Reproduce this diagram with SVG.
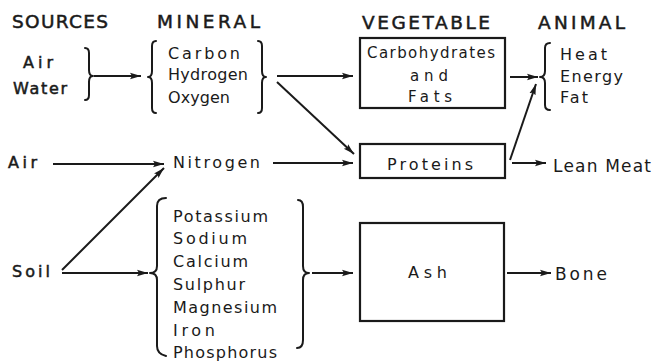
<svg xmlns="http://www.w3.org/2000/svg" width="653" height="362" viewBox="0 0 653 362">
<style>
text{font-family:"DejaVu Sans","Liberation Sans",sans-serif;fill:#1a1a1a;font-size:16px}
.h{font-size:18.5px;stroke:#1a1a1a;stroke-width:0.5}
.s{font-size:15px}
.b{font-size:17px}
.k{stroke:#1a1a1a;stroke-width:0.5}
.br{fill:none;stroke:#1a1a1a;stroke-width:2;stroke-linecap:round;stroke-linejoin:round}
.ln{fill:none;stroke:#1a1a1a;stroke-width:2}
.arr{marker-end:url(#ah)}
.box{fill:none;stroke:#1a1a1a;stroke-width:2.2}
</style>
<defs>
<marker id="ah" markerUnits="userSpaceOnUse" markerWidth="12" markerHeight="8" refX="11" refY="4" orient="auto">
<path d="M0,0.8 L11,4 L0,7.2 L2,4 Z" fill="#1a1a1a"/>
</marker>
</defs>
<rect width="653" height="362" fill="#ffffff"/>
<g id="headers">
<text class="h" x="12" y="28" textLength="96" lengthAdjust="spacing">SOURCES</text>
<text class="h" x="157" y="28" textLength="103" lengthAdjust="spacing">MINERAL</text>
<text class="h" x="362" y="29" textLength="128" lengthAdjust="spacing">VEGETABLE</text>
<text class="h" x="538" y="29" textLength="87" lengthAdjust="spacing">ANIMAL</text>
</g>
<g id="sources-top">
<text class="k" x="23" y="68" textLength="30" lengthAdjust="spacing">Air</text>
<text class="k" x="13" y="94" textLength="54" lengthAdjust="spacing">Water</text>
<path class="br" d="M85,48 Q89,48 89,53 L89,70 Q89,76 93,76 Q89,76 89,82 L89,95 Q89,100 85,100"/>
</g>
<g id="mineral-chon">
<path class="br" d="M156,41 Q152,41 152,46 L152,71 Q152,77 148,77 Q152,77 152,83 L152,108 Q152,113 156,113"/>
<text x="168" y="59" textLength="72" lengthAdjust="spacing">Carbon</text>
<text x="168" y="80" textLength="80" lengthAdjust="spacing">Hydrogen</text>
<text x="168" y="103" textLength="62" lengthAdjust="spacing">Oxygen</text>
<path class="br" d="M258,41 Q262,41 262,46 L262,71 Q262,77 266,77 Q262,77 262,83 L262,108 Q262,113 258,113"/>
</g>
<g id="vegetable-carbs">
<rect class="box" x="360" y="38" width="145" height="70"/>
<text class="s" x="367" y="58" textLength="128" lengthAdjust="spacing">Carbohydrates</text>
<text class="s" x="410" y="81" textLength="38" lengthAdjust="spacing">and</text>
<text class="s" x="408" y="102" textLength="44" lengthAdjust="spacing">Fats</text>
</g>
<g id="animal-heat">
<path class="br" d="M550,43 Q545,43 545,48 L545,71 Q545,77 540,77 Q545,77 545,83 L545,105 Q545,110 550,110"/>
<text x="560" y="60" textLength="47" lengthAdjust="spacing">Heat</text>
<text x="560" y="82" textLength="63" lengthAdjust="spacing">Energy</text>
<text x="560" y="103" textLength="28" lengthAdjust="spacing">Fat</text>
</g>
<g id="air-mid">
<text class="k" x="8" y="168" textLength="29" lengthAdjust="spacing">Air</text>
</g>
<g id="nitrogen">
<text x="173" y="168" textLength="87" lengthAdjust="spacing">Nitrogen</text>
</g>
<g id="proteins">
<rect class="box" x="360" y="144" width="145" height="34"/>
<text x="387" y="170" textLength="86" lengthAdjust="spacing">Proteins</text>
</g>
<g id="lean-meat">
<text class="b" x="553" y="172" textLength="98" lengthAdjust="spacing">Lean Meat</text>
</g>
<g id="soil">
<text class="k" x="12" y="277" textLength="38" lengthAdjust="spacing">Soil</text>
</g>
<g id="mineral-ash">
<path class="br" d="M166,198 Q157,198 157,206 L157,266 Q157,273 150,273 Q157,273 157,280 L157,346 Q157,354 166,356"/>
<text x="173" y="222" textLength="95" lengthAdjust="spacing">Potassium</text>
<text x="173" y="244" textLength="74" lengthAdjust="spacing">Sodium</text>
<text x="173" y="267" textLength="75" lengthAdjust="spacing">Calcium</text>
<text x="173" y="290" textLength="72" lengthAdjust="spacing">Sulphur</text>
<text x="173" y="313" textLength="104" lengthAdjust="spacing">Magnesium</text>
<text x="173" y="336" textLength="42" lengthAdjust="spacing">Iron</text>
<text x="173" y="358" textLength="104" lengthAdjust="spacing">Phosphorus</text>
<path class="br" d="M298,200 Q303,200 303,207 L303,266 Q303,273 309,273 Q303,273 303,280 L303,340 Q303,348 297,348"/>
</g>
<g id="ash">
<rect class="box" x="360" y="223" width="144" height="98"/>
<text x="408" y="278" textLength="39" lengthAdjust="spacing">Ash</text>
</g>
<g id="bone">
<text class="b" x="555" y="280" textLength="52" lengthAdjust="spacing">Bone</text>
</g>
<g id="connectors">
<line class="ln arr" x1="94" y1="76" x2="141" y2="76"/>
<line class="ln arr" x1="277" y1="76" x2="353" y2="76"/>
<line class="ln arr" x1="277" y1="82" x2="354" y2="154"/>
<line class="ln arr" x1="510" y1="77" x2="538" y2="77"/>
<line class="ln arr" x1="510" y1="160" x2="536" y2="84"/>
<line class="ln arr" x1="512" y1="163" x2="546" y2="163"/>
<line class="ln arr" x1="53" y1="164" x2="164" y2="164"/>
<line class="ln arr" x1="62" y1="270" x2="164" y2="168"/>
<line class="ln arr" x1="62" y1="273" x2="148" y2="273"/>
<line class="ln arr" x1="273" y1="163" x2="353" y2="163"/>
<line class="ln arr" x1="312" y1="273" x2="353" y2="273"/>
<line class="ln arr" x1="507" y1="273" x2="551" y2="273"/>
</g>
</svg>
